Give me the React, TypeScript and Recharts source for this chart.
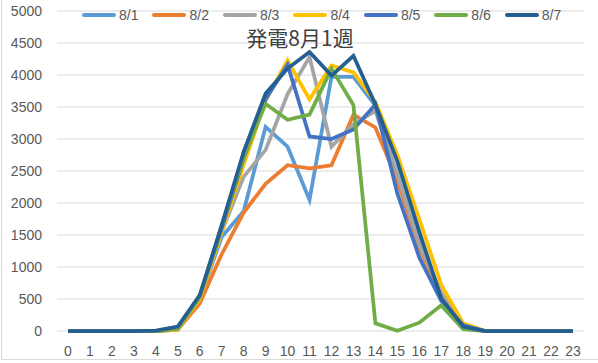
import { LineChart, Line, XAxis, YAxis, CartesianGrid, Legend } from 'recharts';

// hours of the day
const hours = ['0', '1', '2', '3', '4', '5', '6', '7', '8', '9', '10', '11', '12', '13', '14', '15', '16', '17', '18', '19', '20', '21', '22', '23'];

// generation per hour, one list per day
const d0801 = [0, 0, 0, 0, 0, 30, 500, 1470, 1870, 3190, 2880, 2050, 3970, 3970, 3520, 2400, 1400, 550, 90, 0, 0, 0, 0, 0];
const d0802 = [0, 0, 0, 0, 0, 20, 430, 1200, 1850, 2300, 2590, 2540, 2590, 3380, 3180, 2350, 1300, 550, 80, 0, 0, 0, 0, 0];
const d0803 = [0, 0, 0, 0, 0, 30, 520, 1550, 2410, 2830, 3700, 4280, 2880, 3230, 3440, 2450, 1350, 600, 90, 0, 0, 0, 0, 0];
const d0804 = [0, 0, 0, 0, 0, 20, 500, 1550, 2600, 3600, 4230, 3620, 4150, 4040, 3580, 2750, 1750, 720, 120, 0, 0, 0, 0, 0];
const d0805 = [0, 0, 0, 0, 0, 40, 540, 1600, 2700, 3620, 4160, 3040, 3000, 3150, 3540, 2150, 1150, 470, 90, 0, 0, 0, 0, 0];
const d0806 = [0, 0, 0, 0, 0, 40, 530, 1650, 2720, 3550, 3300, 3380, 4100, 3530, 120, 5, 130, 400, 30, 0, 0, 0, 0, 0];
const d0807 = [0, 0, 0, 0, 5, 70, 560, 1650, 2800, 3710, 4100, 4360, 3990, 4300, 3540, 2650, 1550, 510, 70, 0, 0, 0, 0, 0];

const yTicks = [0, 500, 1000, 1500, 2000, 2500, 3000, 3500, 4000, 4500, 5000];

const SERIES = [
  { key: 'd1', name: '8/1', values: d0801, color: '#5B9BD5' },
  { key: 'd2', name: '8/2', values: d0802, color: '#ED7D31' },
  { key: 'd3', name: '8/3', values: d0803, color: '#A5A5A5' },
  { key: 'd4', name: '8/4', values: d0804, color: '#FFC000' },
  { key: 'd5', name: '8/5', values: d0805, color: '#4472C4' },
  { key: 'd6', name: '8/6', values: d0806, color: '#70AD47' },
  { key: 'd7', name: '8/7', values: d0807, color: '#255E91' },
];

const data = hours.map((hour, i) => {
  const row: Record<string, string | number> = { hour };
  SERIES.forEach((s) => {
    row[s.key] = s.values[i];
  });
  return row;
});

function LegendRow({ payload }: any) {
  return (
    <div style={{ display: 'flex', alignItems: 'center' }}>
      {(payload || []).map((p: any) => (
        <div key={p.value} style={{ display: 'flex', alignItems: 'center', marginRight: 14 }}>
          <svg width={34} height={6}>
            <line x1={2} y1={3} x2={32} y2={3} stroke={p.color} strokeWidth={4} strokeLinecap="round" />
          </svg>
          <span style={{ marginLeft: 3, fontSize: 14, color: '#595959', lineHeight: '16px' }}>{p.value}</span>
        </div>
      ))}
    </div>
  );
}

export default function App() {
  const tick = { fill: '#595959', fontSize: 14 };
  return (
    <div
      style={{
        position: 'absolute',
        left: 0,
        top: 0,
        width: 598,
        height: 363,
        background: '#fff',
        fontFamily: '"Liberation Sans", Arial, sans-serif',
      }}
    >
      <div
        style={{
          position: 'absolute',
          left: 1,
          top: 0,
          width: 0,
          height: 359,
          borderLeft: '1px solid #D9D9D9',
        }}
      />
      <div
        style={{
          position: 'absolute',
          left: 1,
          top: 359,
          width: 597,
          height: 0,
          borderTop: '1px solid #D9D9D9',
        }}
      />
      <LineChart width={598} height={363} data={data} margin={{ top: 11, right: 14, bottom: 2, left: 0 }}>
        <CartesianGrid vertical={false} stroke="#D9D9D9" strokeWidth={1} />
        <XAxis
          dataKey="hour"
          axisLine={false}
          tickLine={false}
          tickSize={0}
          tickMargin={15}
          height={30}
          interval={0}
          padding={{ left: 11, right: 11 }}
          tick={tick}
        />
        <YAxis
          domain={[0, 5000]}
          ticks={yTicks}
          axisLine={false}
          tickLine={false}
          tickSize={0}
          tickMargin={15}
          width={57}
          tick={tick}
        />
        <Legend
          verticalAlign="middle"
          align="center"
          layout="horizontal"
          content={LegendRow}
          wrapperStyle={{ top: 7, left: 82, width: 'auto' }}
        />
        {SERIES.map((s) => (
          <Line
            key={s.key}
            type="linear"
            dataKey={s.key}
            name={s.name}
            stroke={s.color}
            strokeWidth={3.75}
            dot={false}
            activeDot={false}
            isAnimationActive={false}
          />
        ))}
      </LineChart>
      <div
        style={{
          position: 'absolute',
          left: 0,
          top: 27,
          width: 600,
          textAlign: 'center',
          fontFamily: '"Noto Sans CJK JP", sans-serif',
          fontSize: 21,
          lineHeight: '20px',
          color: '#404040',
          pointerEvents: 'none',
        }}
      >
        発電8月1週
      </div>
    </div>
  );
}
